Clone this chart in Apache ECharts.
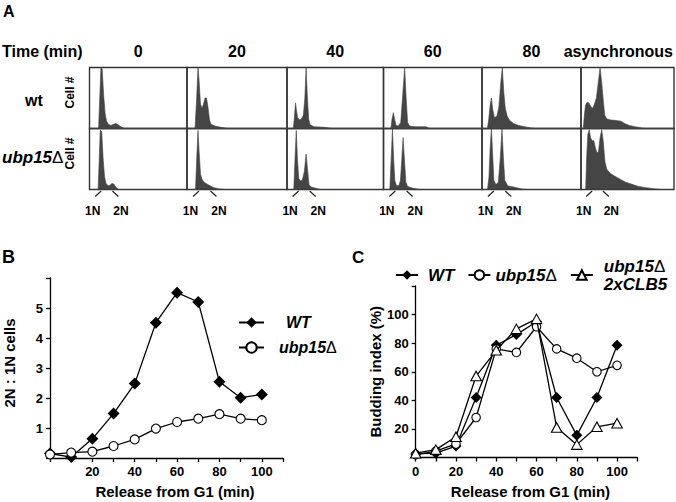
<!DOCTYPE html>
<html><head><meta charset="utf-8">
<script src="https://cdn.jsdelivr.net/npm/echarts@6.0.0/dist/echarts.min.js"></script>
<style>html,body{margin:0;padding:0;background:#fff}#c{width:676px;height:502px}</style>
</head><body><div id="c"></div>
<script>
// ---------- Panel A: flow cytometry histograms ([channel %, relative cell #]) ----------
const timepoints = ['0', '20', '40', '60', '80', 'asynchronous'];
const ploidyLabels = ['1N', '2N'];
const ploidyChannels = [12, 23.5];

const wt0 = [[0,0],[9.3,0],[10.5,0.5],[11.7,1.0],[13,0.98],[14.5,0.55],[16,0.25],[17.5,0.12],[19.5,0.07],[22,0.05],[24.5,0.07],[27,0.08],[29.5,0.06],[32,0.03],[36,0],[100,0]];
const wt20 = [[0,0],[8,0],[9.5,0.45],[11,1.0],[12,0.8],[13.5,0.4],[15,0.33],[16.5,0.4],[18,0.5],[19.5,0.5],[21,0.35],[22.5,0.14],[24,0.07],[28,0.04],[34,0.02],[41,0],[100,0]];
const wt40 = [[0,0],[6.5,0],[7.5,0.15],[8.8,0.42],[9.8,0.3],[11,0.18],[13,0.14],[15,0.16],[17,0.22],[18.5,0.5],[19.8,1.0],[21,0.55],[22.5,0.15],[24,0.06],[28,0.03],[38,0.02],[47,0],[100,0]];
const wt60 = [[0,0],[7.5,0],[8.6,0.15],[10,0.26],[11.3,0.15],[12.7,0.05],[15,0.04],[17.5,0.1],[19.5,0.55],[21.5,1.0],[23,0.5],[24.5,0.1],[26.5,0.04],[32,0.03],[38,0.03],[43,0.03],[47,0],[100,0]];
const wt80 = [[0,0],[5.5,0],[6.8,0.15],[8.2,0.38],[9.5,0.5],[10.8,0.32],[12.5,0.18],[15,0.2],[17,0.35],[19,0.75],[20.5,1.0],[22,0.6],[23.5,0.33],[25.5,0.2],[28,0.13],[32,0.08],[37,0.05],[43,0.03],[49,0.01],[53,0],[100,0]];
const wtAsync = [[0,0],[2.5,0],[3.5,0.2],[4.8,0.38],[6.5,0.43],[8.5,0.42],[10.5,0.36],[12.5,0.33],[14.5,0.4],[16.5,0.5],[18.5,0.75],[20.5,1.0],[22.3,0.75],[24,0.45],[25.5,0.22],[27.5,0.16],[32,0.14],[38,0.13],[43,0.12],[47,0.08],[52,0.05],[58,0.03],[65,0.01],[70,0],[100,0]];

const ubp0 = [[0,0],[8.8,0],[10,0.5],[11,0.97],[12.5,0.95],[14,0.5],[15.5,0.2],[17,0.1],[19,0.06],[21,0.07],[23,0.1],[25,0.09],[27,0.04],[29.5,0],[100,0]];
const ubp20 = [[0,0],[8.5,0],[9.7,0.5],[11,0.97],[12.2,0.6],[13.5,0.25],[15,0.17],[17,0.12],[20,0.09],[23,0.06],[27,0.03],[32,0.01],[38,0],[100,0]];
const ubp40 = [[0,0],[7,0],[8.3,0.5],[9.6,0.97],[10.8,0.5],[12.2,0.18],[14,0.14],[16,0.16],[18,0.3],[19.8,0.58],[21.2,0.35],[22.8,0.08],[25,0.04],[30,0.02],[34,0],[100,0]];
const ubp60 = [[0,0],[6.4,0],[7.8,0.5],[9.1,1.0],[10.3,0.5],[11.5,0.15],[13,0.07],[15.5,0.06],[17.2,0.15],[18.6,0.5],[19.9,0.85],[21.2,0.5],[22.7,0.12],[24.5,0.05],[30,0.02],[37,0],[100,0]];
const ubp80 = [[0,0],[5.5,0],[7,0.2],[8.3,0.7],[9.5,1.0],[10.7,0.6],[12,0.15],[14,0.08],[16.5,0.12],[18.6,0.55],[20.2,1.0],[21.5,0.55],[23,0.15],[26,0.06],[32,0.04],[40,0.01],[45,0],[100,0]];
const ubpAsync = [[0,0],[5,0],[6,0.5],[7.3,0.9],[8.8,0.98],[10.3,0.85],[12,0.8],[13.8,0.8],[15.5,0.68],[17.3,0.6],[18.8,0.62],[20.5,0.85],[22.3,0.98],[24,0.78],[25.8,0.45],[27.8,0.33],[31,0.27],[36,0.22],[42,0.17],[48,0.12],[54,0.09],[62,0.05],[70,0.03],[80,0.01],[86,0],[100,0]];

// ---------- Panel B: 2N:1N ratio ----------
const releaseTimes = [0, 10, 20, 30, 40, 50, 60, 70, 80, 90, 100];
const ratioWT = [0.15, 0.03, 0.64, 1.48, 2.48, 4.51, 5.51, 5.2, 2.54, 2.01, 2.12];
const ratioUbp15 = [0.12, 0.18, 0.21, 0.4, 0.62, 0.98, 1.2, 1.31, 1.46, 1.31, 1.26];

// ---------- Panel C: budding index (%) ----------
const budWT = [2.5, 3, 8, 42, 78.5, 86, 95, 42, 15.5, 42, 78.5];
const budUbp15 = [2, 4.5, 9.5, 28, 76, 73.5, 91.5, 76, 69.5, 60, 64.5];
const budUbp15Clb5 = [3, 5.5, 14.5, 57, 75, 90, 97, 21, 9, 21.5, 24];

// ---------- layout ----------
const FONT = '"Liberation Sans", Arial, Helvetica, sans-serif';
const INK = '#000';
const HIST = '#454545';
const colEdges = [89.5, 187, 287, 383.5, 482, 581, 674];
const rowEdges = [67.5, 128.5, 189.5];
const histRows = [[wt0, wt20, wt40, wt60, wt80, wtAsync], [ubp0, ubp20, ubp40, ubp60, ubp80, ubpAsync]];

const grids = [], xAxes = [], yAxes = [], series = [];
for (let r = 0; r < 2; r++) {
  for (let c = 0; c < 6; c++) {
    const gi = grids.length;
    grids.push({left: colEdges[c], top: rowEdges[r], width: colEdges[c+1] - colEdges[c],
      height: rowEdges[r+1] - rowEdges[r], show: true, borderColor: '#333', borderWidth: 1.4,
      backgroundColor: 'transparent'});
    xAxes.push({gridIndex: gi, type: 'value', min: 0, max: 100, show: false});
    if (c === 0) {
      yAxes.push({gridIndex: gi, type: 'value', min: 0, max: 1, show: true,
        axisLine: {show: false}, axisTick: {show: false}, axisLabel: {show: false}, splitLine: {show: false},
        name: 'Cell #', nameLocation: 'middle', nameRotate: 90, nameGap: 14,
        nameTextStyle: {color: INK, fontWeight: 'bold', fontSize: 12, fontFamily: FONT, padding: [0, 0, 0, 11]}});
    } else {
      yAxes.push({gridIndex: gi, type: 'value', min: 0, max: 1, show: false});
    }
    series.push({type: 'line', xAxisIndex: gi, yAxisIndex: gi, data: histRows[r][c], symbol: 'none',
      silent: true, lineStyle: {width: 0.6, color: HIST}, areaStyle: {color: HIST, opacity: 1}, z: 1});
    if (r === 1) {
      series.push({type: 'custom', xAxisIndex: gi, yAxisIndex: gi, clip: false, silent: true,
        data: ploidyChannels.map(v => [v, 0]),
        renderItem: function (params, api) {
          const p = api.coord([api.value(0), 0]);
          const dir = params.dataIndex === 0 ? -1 : 1;
          return {type: 'group', children: [
            {type: 'line', shape: {x1: p[0], y1: p[1] + 1.5, x2: p[0] + dir * 6, y2: p[1] + 7},
             style: {stroke: '#222', lineWidth: 1.2}},
            {type: 'text', x: p[0] + dir * 8.5, y: p[1] + 21,
             style: {text: ploidyLabels[params.dataIndex], font: 'bold 12px ' + FONT, fill: INK,
                     textAlign: 'center', textVerticalAlign: 'middle'}}
          ]};
        }});
    }
  }
}

// Panel B grid (index 12), Panel C grid (index 13)
grids.push({left: 50, top: 278, width: 233, height: 180});
grids.push({left: 415.7, top: 286, width: 221.5, height: 171.5});

const tickLabel = {color: INK, fontWeight: 'bold', fontSize: 13, fontFamily: FONT};
const axisLine = {lineStyle: {color: INK, width: 1.3}};
const axisTick = {length: 4, lineStyle: {color: INK, width: 1.3}};
const nameStyle = {color: INK, fontWeight: 'bold', fontSize: 15, fontFamily: FONT};

xAxes.push({gridIndex: 12, type: 'value', min: 0, max: 110, interval: 10, axisLine, axisTick,
  splitLine: {show: false},
  axisLabel: Object.assign({margin: 7, formatter: v => (v > 0 && v <= 100 && v % 20 === 0) ? String(v) : ''}, tickLabel),
  name: 'Release from G1 (min)', nameLocation: 'middle', nameGap: 26,
  nameTextStyle: Object.assign({padding: [0, 0, 0, 17]}, nameStyle)});
yAxes.push({gridIndex: 12, type: 'value', min: 0, max: 6, interval: 1, axisLine: Object.assign({show: true}, axisLine), axisTick,
  splitLine: {show: false},
  axisLabel: Object.assign({margin: 7, formatter: v => (v >= 1 && v <= 5) ? String(v) : ''}, tickLabel),
  name: '2N : 1N cells', nameLocation: 'middle', nameGap: 33, nameRotate: 90,
  nameTextStyle: Object.assign({padding: [0, 0, 0, 10]}, nameStyle)});

xAxes.push({gridIndex: 13, type: 'value', min: 0, max: 110, interval: 10, axisLine, axisTick,
  splitLine: {show: false},
  axisLabel: Object.assign({margin: 7, formatter: v => (v <= 100 && v % 20 === 0) ? String(v) : ''}, tickLabel),
  name: 'Release from G1 (min)', nameLocation: 'middle', nameGap: 26,
  nameTextStyle: Object.assign({padding: [0, 0, 0, 8]}, nameStyle)});
yAxes.push({gridIndex: 13, type: 'value', min: 0, max: 120, interval: 20, axisLine: Object.assign({show: true}, axisLine), axisTick,
  splitLine: {show: false},
  axisLabel: Object.assign({margin: 7, formatter: v => (v >= 20 && v <= 100) ? String(v) : ''}, tickLabel),
  name: 'Budding index (%)', nameLocation: 'middle', nameGap: 32, nameRotate: 90, nameTextStyle: nameStyle});

const pairs = vals => releaseTimes.map((t, i) => [t, vals[i]]);
const lineStyle = {color: INK, width: 1.3};
const openItem = {color: '#fff', borderColor: INK, borderWidth: 1.1};
series.push({name: 'WT', type: 'line', xAxisIndex: 12, yAxisIndex: 12, data: pairs(ratioWT),
  symbol: 'diamond', symbolSize: 12, color: INK, lineStyle, itemStyle: {color: INK}, z: 3});
series.push({name: 'ubp15Δ', type: 'line', xAxisIndex: 12, yAxisIndex: 12, data: pairs(ratioUbp15),
  symbol: 'circle', symbolSize: 9, lineStyle, itemStyle: openItem, z: 4});

series.push({name: 'WT ', type: 'line', xAxisIndex: 13, yAxisIndex: 13, data: pairs(budWT),
  symbol: 'diamond', symbolSize: 11, color: INK, lineStyle, itemStyle: {color: INK}, z: 3});
series.push({name: 'ubp15Δ ', type: 'line', xAxisIndex: 13, yAxisIndex: 13, data: pairs(budUbp15),
  symbol: 'circle', symbolSize: 8.5, lineStyle, itemStyle: openItem, z: 4});
series.push({name: 'ubp15Δ\n2xCLB5', type: 'line', xAxisIndex: 13, yAxisIndex: 13, data: pairs(budUbp15Clb5),
  symbol: 'triangle', symbolSize: [10.5, 9.5], lineStyle, itemStyle: openItem, z: 5});

const legendText = size => ({color: INK, fontWeight: 'bold', fontStyle: 'italic', fontSize: size, fontFamily: FONT,
  lineHeight: size + 1,
  rich: {d: {fontWeight: 'normal', fontStyle: 'normal', fontSize: size, fontFamily: FONT, color: INK, lineHeight: size + 1}}});
const deltaFmt = name => name.replace(/ $/, '').replace('Δ', '{d|Δ}');

const legends = [
  {orient: 'vertical', left: 238, top: 314, padding: 0, itemWidth: 25, itemHeight: 13, itemGap: 8, selectedMode: false,
   formatter: deltaFmt, textStyle: legendText(16),
   data: [{name: 'WT', textStyle: {padding: [0, 0, 0, 17]}}, {name: 'ubp15Δ', textStyle: {padding: [0, 0, 0, 10]}}]},
  {orient: 'horizontal', left: 395, top: 257, width: 281, padding: 0, itemWidth: 22, itemHeight: 12, itemGap: 13, selectedMode: false,
   formatter: deltaFmt, textStyle: legendText(17),
   data: [{name: 'WT ', textStyle: {padding: [0, 0, 0, 5]}}, {name: 'ubp15Δ '}, {name: 'ubp15Δ\n2xCLB5', textStyle: {padding: [0, 0, 0, 6]}}]}
];

// ---------- static texts ----------
const txt = (text, x, y, size, extra) => Object.assign({type: 'text', x, y, silent: true,
  style: Object.assign({text, font: 'bold ' + size + 'px ' + FONT, fill: INK, textAlign: 'left', textVerticalAlign: 'middle'}, extra || {})});
const graphic = [
  txt('A', 3, 11, 16), txt('B', 2, 257, 18), txt('C', 352, 257, 17),
  txt('Time (min)', 2, 51.5, 16),
  txt('wt', 25, 100, 16),
  {type: 'text', x: 2, y: 157, silent: true, style: {text: '{b|ubp15}{d|Δ}', textAlign: 'left', textVerticalAlign: 'middle',
    rich: {b: {font: 'italic bold 17px ' + FONT, fill: INK}, d: {font: 'normal 17px ' + FONT, fill: INK}}}}
];
timepoints.forEach((t, c) => {
  if (c === timepoints.length - 1) graphic.push(txt(t, 673, 51, 16, {textAlign: 'right'}));
  else graphic.push(txt(t, (colEdges[c] + colEdges[c+1]) / 2, 51, 16, {textAlign: 'center'}));
});

const chart = echarts.init(document.getElementById('c'), null, {renderer: 'svg', width: 676, height: 502});
chart.setOption({
  animation: false,
  backgroundColor: '#fff',
  textStyle: {fontFamily: FONT},
  grid: grids, xAxis: xAxes, yAxis: yAxes, series, legend: legends, graphic
});
</script></body></html>
